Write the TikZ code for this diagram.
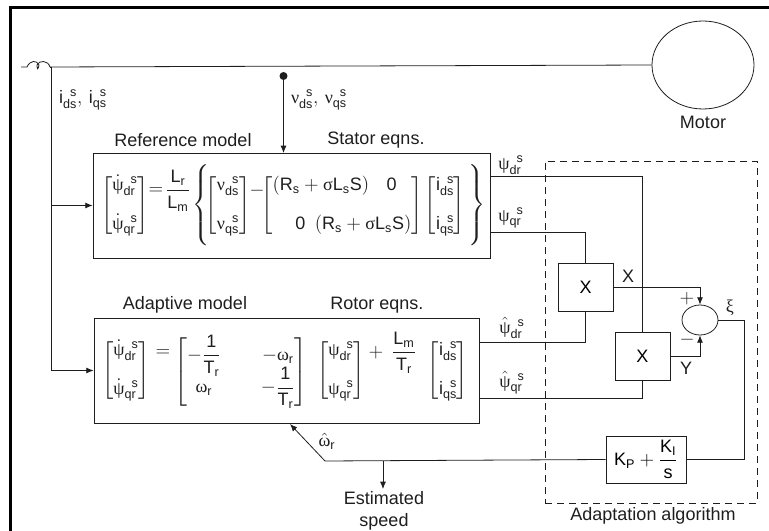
\documentclass[tikz,border=0pt]{standalone}
\usepackage{amsmath}
\usepackage{fontspec}
\setmainfont{Liberation Sans}
\setsansfont{Liberation Sans}
\newfontfamily\greekfont{Liberation Serif}
\usepackage{tikz}
\usepackage{xcolor}
\usetikzlibrary{arrows.meta,positioning,shapes.geometric}
\definecolor{Ink}{HTML}{1E1E1E}
\newcommand{\gk}[1]{\text{\greekfont #1}}
\newcommand{\stat}[2]{{#1}_{\mathsf{#2}}^{\hphantom{\mathsf{d}}\mathsf{s}}}
\newcommand{\low}[2]{\mathsf{#1}_{\mathsf{#2}}}
\newcommand{\rrow}{\low{R}{s}+\gk{σ}\low{L}{s}\mathsf{S}}
\newcommand{\dpsi}{{\smash{\dot{\gk{ψ}}}\vphantom{\gk{ψ}}}}
\newcommand{\hpsi}{{\smash{\hat{\gk{ψ}}}\vphantom{\gk{ψ}}}}
\begin{document}
\begin{tikzpicture}[
  x=0.75pt,y=-0.75pt,
  node distance=4.5pt,
  modelbox/.style={draw=Ink,line width=0.6pt,minimum height=78.75pt,inner sep=0pt},
  mulbox/.style={draw=Ink,line width=0.6pt,minimum width=41.25pt,minimum height=36pt,inner sep=0pt,font=\fontsize{13.5}{16}\selectfont},
  round/.style={ellipse,draw=Ink,line width=0.6pt,inner sep=0pt},
  dashbox/.style={draw=Ink,line width=0.6pt,dash pattern=on 5.5pt off 3.5pt,minimum width=159pt,minimum height=256.5pt,inner sep=0pt},
  tag/.style={inner sep=0pt,text=Ink,align=center,font=\fontsize{13.5}{16}\selectfont},
  eqn/.style={inner sep=0pt,text=Ink,font=\fontsize{13.5}{16}\selectfont},
  wire/.style={draw=Ink,line width=0.6pt},
  arrow/.style={-{Latex[length=5.5pt,width=4.5pt]},draw=Ink,line width=0.6pt},
  frameline/.style={draw=black,line width=2.25pt}
]
\useasboundingbox (0,0) rectangle (769,531);
\draw[frameline] (769,8) -- (10,8) -- (10,531);
\node[round,minimum width=76.5pt,minimum height=66pt] (motor) at (703,65) {};
\node[tag,below=of motor] (motorname) {Motor};
\node[modelbox,minimum width=297.75pt] (ref) at (291.5,205.5) {};
\node[modelbox,minimum width=288.75pt] (adapt) at (286.5,370.5) {};
\node[dashbox] (algo) at (651,332) {};
\node[mulbox] (mula) at (585.5,287) {X};
\node[mulbox] (mulb) at (642.5,356) {X};
\node[round,minimum width=27pt,minimum height=22.5pt] (sum) at (700,320) {};
\node[mulbox,minimum width=60pt,minimum height=35.25pt] (pi) at (646,459.5) {$\low{K}{P}+\dfrac{\low{K}{I}}{\mathsf{s}}$};
\coordinate (linestart) at (21,67);
\coordinate (coilin) at (27,67);
\coordinate (coilout) at (50,67);
\coordinate (tap) at (51,67);
\node[circle,fill=Ink,inner sep=0pt,minimum size=6pt] (vdot) at (283.5,76) {};
\coordinate (vtip) at (283.5,153);
\coordinate (turn) at (325,461);
\coordinate (speedtap) at (383,461);
\coordinate (speedtip) at (383,489);
\coordinate (omtip) at (290,424);
\coordinate (qdr) at (490,176);
\coordinate (qqr) at (490,232);
\coordinate (hdr) at (479,342);
\coordinate (hqr) at (479,398);
\draw[wire] (linestart) -- (coilin) .. controls (30,60) and (37,60) .. (39,65) .. controls (38,70) and (37,70) .. (37,65) .. controls (39,60) and (48,60) .. (coilout) -- (motor.west);
\draw[wire] (coilout) -- (tap);
\draw[arrow] (tap) |- (ref.west);
\draw[arrow] (tap) |- (adapt.west);
\draw[arrow] (vdot) -- (vtip);
\draw[wire] (qdr) -| (mulb.north);
\draw[wire] (qqr) -| (mula.north);
\draw[wire] (hdr) -| (mula.south);
\draw[wire] (hqr) -| (mulb.south);
\draw[arrow] (mula.east) -| (sum.north);
\draw[arrow] (mulb.east) -| (sum.south);
\draw[wire] (sum.east) -- ++(26,0) |- (pi.east);
\draw[wire] (pi.west) -- (turn);
\draw[arrow] (turn) -- (omtip);
\draw[arrow] (speedtap) -- (speedtip);
\node[tag] (idq) at (83,100) {$\stat{\mathsf{i}}{ds},\,\stat{\mathsf{i}}{qs}$};
\node[tag] (vdq) at (319,100) {$\stat{\gk{ν}}{ds},\,\stat{\gk{ν}}{qs}$};
\node[tag] (refname) at (183,140) {Reference model};
\node[tag] (statname) at (376,140) {Stator eqns.};
\node[tag] (adaptname) at (185,305) {Adaptive model};
\node[tag] (rotname) at (377,305) {Rotor eqns.};
\node[tag] (algoname) at (653,516) {Adaptation algorithm};
\node[tag] (speedname) at (384,511) {Estimated\\speed};
\node[tag] (xname) at (628,276) {X};
\node[tag] (yname) at (686,368) {Y};
\node[tag] (plus) at (687,299) {$+$};
\node[tag] (minus) at (687,340) {$-$};
\node[tag] (xi) at (730,308) {$\gk{ξ}$};
\node[tag] (omhat) at (327,441) {$\hat{\gk{ω}}_{\mathsf{r}}$};
\node[tag] (qdrname) at (511,165) {$\stat{\gk{ψ}}{dr}$};
\node[tag] (qqrname) at (511,218) {$\stat{\gk{ψ}}{qr}$};
\node[tag] (hdrname) at (512,329) {$\stat{\hpsi}{dr}$};
\node[tag] (hqrname) at (512,384) {$\stat{\hpsi}{qr}$};
\node[eqn] (refa) at (125,206) {$\begin{bmatrix}\stat{\dpsi}{dr}\\[13pt]\stat{\dpsi}{qr}\end{bmatrix}$};
\node[eqn] (refeq) at (156,191) {$=$};
\node[eqn] (refgain) at (178,191) {$\dfrac{\low{L}{r}}{\low{L}{m}}$};
\node[eqn] (refbrace) at (202,205) {$\left\{\vcenter{\hbox{\rule{0pt}{63pt}}}\right.$};
\node[eqn] (refb) at (228,206) {$\begin{bmatrix}\stat{\gk{ν}}{ds}\\[13pt]\stat{\gk{ν}}{qs}\end{bmatrix}$};
\node[eqn] (refminus) at (257,191) {$-$};
\node[eqn] (refc) at (342,206) {$\begin{bmatrix}\makebox[104pt][l]{$(\rrow)$\hfill$\mathsf{0}$\hspace{11pt}}\\[13pt]\makebox[104pt][l]{\hspace{17pt}$\mathsf{0}$\hfill$(\rrow)$}\end{bmatrix}$};
\node[eqn] (refd) at (445,206) {$\begin{bmatrix}\stat{\mathsf{i}}{ds}\\[13pt]\stat{\mathsf{i}}{qs}\end{bmatrix}$};
\node[eqn] (refclose) at (476,205) {$\left.\vcenter{\hbox{\rule{0pt}{63pt}}}\right\}$};
\node[eqn] (ada) at (126,371) {$\begin{bmatrix}\stat{\dpsi}{dr}\\[13pt]\stat{\dpsi}{qr}\end{bmatrix}$};
\node[eqn] (adeq) at (163,353) {$=$};
\node[eqn] (adb) at (241,372) {$\begin{bmatrix}-\dfrac{\mathsf{1}}{\low{T}{r}}&\hspace{20pt}-\gk{ω}_{\mathsf{r}}\\[-7pt]\gk{ω}_{\mathsf{r}}&\hspace{20pt}-\dfrac{\mathsf{1}}{\low{T}{r}}\end{bmatrix}$};
\node[eqn] (adc) at (341,371) {$\begin{bmatrix}\stat{\gk{ψ}}{dr}\\[13pt]\stat{\gk{ψ}}{qr}\end{bmatrix}$};
\node[eqn] (adplus) at (376,353) {$+$};
\node[eqn] (adgain) at (404,353) {$\dfrac{\low{L}{m}}{\low{T}{r}}$};
\node[eqn] (add) at (448,371) {$\begin{bmatrix}\stat{\mathsf{i}}{ds}\\[13pt]\stat{\mathsf{i}}{qs}\end{bmatrix}$};
\end{tikzpicture}
\end{document}
